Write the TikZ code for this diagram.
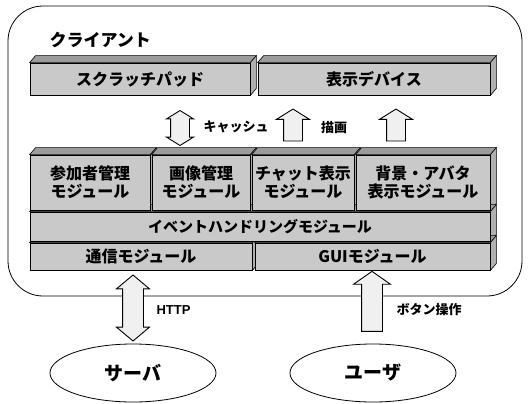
\documentclass[tikz,border=0pt]{standalone}
\usepackage{fontspec}
\newfontfamily\jp{Noto Sans CJK JP}
\setsansfont{Liberation Sans}
\usetikzlibrary{shapes.geometric,shapes.arrows,calc,backgrounds}
\begin{document}
\begin{tikzpicture}[x=1pt,y=-1pt,
  front/.style={draw=black, line width=0.8pt, fill=gray!42, inner sep=0pt, align=center,
    font=\jp\bfseries\fontsize{16}{18}\selectfont},
  topface/.style={draw=black, line width=0.6pt, fill=gray!78},
  sideface/.style={draw=black, line width=0.6pt, fill=gray!62},
  blkarrow/.style={draw=black, line width=0.9pt, fill=gray!12, inner xsep=0pt, inner ysep=8pt, rotate=90},
  lbl/.style={font=\jp\bfseries\fontsize{13}{15}\selectfont},
  ell/.style={ellipse, draw=black, line width=0.8pt, minimum width=166pt, minimum height=58pt,
    font=\jp\bfseries\fontsize{19}{21}\selectfont}
]
\useasboundingbox (0,0) rectangle (530,404);
\draw[line width=0.8pt, rounded corners=35pt] (8,6) rectangle (522,296);
\node[anchor=west, font=\jp\bfseries\fontsize{17}{20}\selectfont] (client) at (46,40) {クライアント};

% front faces
\node[front, minimum width=220pt, minimum height=32pt] (scratch) at (140,79) {スクラッチパッド};
\node[front, minimum width=232pt, minimum height=32pt] (display) at (374,79) {表示デバイス};
\node[front, minimum width=120pt, minimum height=55pt] (m1) at (90,182.5) {参加者管理\\モジュール};
\node[front, minimum width=98pt, minimum height=55pt] (m2) at (201,182.5) {画像管理\\モジュール};
\node[front, minimum width=102pt, minimum height=55pt] (m3) at (303,182.5) {チャット表示\\モジュール};
\node[front, minimum width=134pt, minimum height=55pt] (m4) at (423,182.5) {背景・アバタ\\表示モジュール};
\node[front, minimum width=460pt, minimum height=29pt, font=\jp\bfseries\fontsize{15}{17}\selectfont] (event) at (260,226.5) {イベントハンドリングモジュール};
\node[front, minimum width=222pt, minimum height=27pt] (comm) at (141,256.5) {通信モジュール};
\node[front, minimum width=235pt, minimum height=27pt] (gui) at (372.5,256.5) {GUIモジュール};

% top and side faces
\begin{scope}[on background layer]
\foreach \b in {scratch,display,m1,m2,m3,m4,event,comm,gui}{
  \filldraw[topface] (\b.north west) -- ++(6,-7) -- ($(\b.north east)+(6,-7)$) -- (\b.north east) -- cycle;
  \filldraw[sideface] (\b.north east) -- ++(6,-7) -- ($(\b.south east)+(6,-7)$) -- (\b.south east) -- cycle;
}
\end{scope}

% block arrows
\node[blkarrow, double arrow, inner ysep=9pt, double arrow head extend=4pt, double arrow tip angle=116, minimum width=26pt, minimum height=35pt] (cache) at (180,128) {};
\node[blkarrow, single arrow, inner ysep=9pt, single arrow head extend=7pt, single arrow tip angle=116, minimum width=32pt, minimum height=32pt] (draw1) at (293,128) {};
\node[blkarrow, single arrow, inner ysep=9pt, single arrow head extend=7pt, single arrow tip angle=116, minimum width=32pt, minimum height=32pt] (draw2) at (396,128) {};
\node[lbl, anchor=west] (cachelbl) at (200,127) {キャッシュ};
\node[lbl] (drawlbl) at (334,128) {描画};

% server / user
\node[ell] (server) at (133,373) {サーバ};
\node[ell] (user) at (373,373) {ユーザ};
\node[blkarrow, double arrow, inner ysep=10pt, double arrow head extend=6pt, double arrow tip angle=100, minimum width=32pt, minimum height=66pt] (http) at (133,308) {};
\node[blkarrow, single arrow, inner ysep=10pt, single arrow head extend=8pt, single arrow tip angle=110, minimum width=36pt, minimum height=60pt] (button) at (372,305) {};
\node[font=\sffamily\bfseries\fontsize{13}{15}\selectfont, anchor=west] (httplbl) at (153,310) {HTTP};
\node[lbl, anchor=west] (buttonlbl) at (393,310) {ボタン操作};
\end{tikzpicture}
\end{document}
